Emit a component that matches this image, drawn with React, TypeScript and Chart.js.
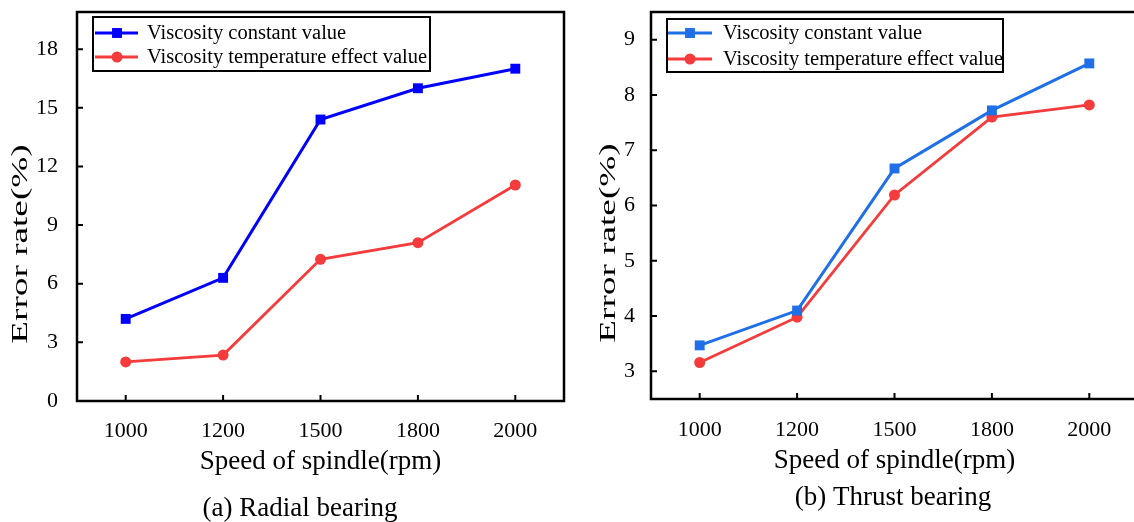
import React, { useEffect, useRef } from 'react';
import { Chart, registerables } from 'chart.js';

Chart.register(...registerables);

// ---------- data ----------
const speedLabels = ['1000', '1200', '1500', '1800', '2000'];
const radialConstant = [4.2, 6.3, 14.4, 16.0, 17.0];
const radialTemperature = [2.0, 2.35, 7.25, 8.1, 11.05];
const thrustConstant = [3.47, 4.1, 6.67, 7.72, 8.57];
const thrustTemperature = [3.16, 3.98, 6.19, 7.6, 7.82];
const radialYTicks = [0, 3, 6, 9, 12, 15, 18];
const thrustYTicks = [3, 4, 5, 6, 7, 8, 9];
const seriesNames = ['Viscosity constant value', 'Viscosity temperature effect value'];
const xTitle = 'Speed of spindle(rpm)';
const yTitle = 'Error rate(%)';
const captions = ['(a) Radial bearing', '(b) Thrust bearing'];

const FONT = '"Liberation Serif", "Times New Roman", Times, serif';

// ---------- plugins ----------
const frameTicksPlugin = {
  id: 'frameTicks',
  afterDraw(chart: any) {
    const { ctx, chartArea: a, scales } = chart;
    ctx.save();
    ctx.strokeStyle = '#000';
    ctx.lineWidth = 2;
    ctx.beginPath();
    scales.x.ticks.forEach((_: any, i: number) => {
      const px = scales.x.getPixelForTick(i);
      ctx.moveTo(px, a.bottom);
      ctx.lineTo(px, a.bottom - 6);
    });
    scales.y.ticks.forEach((_: any, i: number) => {
      const py = scales.y.getPixelForTick(i);
      ctx.moveTo(a.left, py);
      ctx.lineTo(a.left + 6, py);
    });
    ctx.stroke();
    ctx.lineWidth = 2.5;
    ctx.strokeRect(a.left, a.top, a.right - a.left, a.bottom - a.top);
    ctx.restore();
  },
};

const boxLegendPlugin = {
  id: 'boxLegend',
  afterDraw(chart: any, _args: any, opts: any) {
    if (!opts || !opts.display) return;
    const { ctx, chartArea: a } = chart;
    const left = a.left + opts.dx;
    const top = a.top + opts.dy;
    ctx.save();
    ctx.fillStyle = '#fff';
    ctx.fillRect(left, top, opts.width, opts.height);
    ctx.lineWidth = 2;
    ctx.strokeStyle = '#000';
    ctx.strokeRect(left, top, opts.width, opts.height);
    chart.data.datasets.forEach((ds: any, i: number) => {
      const y = top + opts.rows[i];
      ctx.strokeStyle = ds.borderColor;
      ctx.lineWidth = ds.borderWidth;
      ctx.beginPath();
      ctx.moveTo(left + opts.lineFrom, y);
      ctx.lineTo(left + opts.lineTo, y);
      ctx.stroke();
      const mx = left + opts.markerX;
      ctx.fillStyle = ds.pointBackgroundColor;
      if (ds.pointStyle === 'rect') {
        const s = ds.pointRadius * Math.SQRT1_2;
        ctx.fillRect(mx - s, y - s, 2 * s, 2 * s);
      } else {
        ctx.beginPath();
        ctx.arc(mx, y, ds.pointRadius, 0, Math.PI * 2);
        ctx.fill();
      }
      ctx.fillStyle = '#000';
      ctx.font = `${opts.fontSize}px ${FONT}`;
      ctx.textBaseline = 'middle';
      ctx.textAlign = 'left';
      ctx.fillText(ds.label, left + opts.textX, y + 1);
    });
    ctx.restore();
  },
};

const panelTextPlugin = {
  id: 'panelText',
  afterDraw(chart: any, _args: any, opts: any) {
    const { ctx } = chart;
    // y axis title
    ctx.save();
    ctx.fillStyle = '#000';
    ctx.font = `${opts.yTitleSize}px ${FONT}`;
    ctx.translate(opts.yTitleX, opts.yTitleY);
    ctx.rotate(-Math.PI / 2);
    ctx.scale(opts.yTitleStretch, 1);
    ctx.textAlign = 'center';
    ctx.textBaseline = 'middle';
    ctx.fillText(opts.yTitle, 0, 0);
    ctx.restore();
    // caption
    ctx.save();
    ctx.fillStyle = '#000';
    ctx.font = `${opts.captionSize}px ${FONT}`;
    ctx.textAlign = 'center';
    ctx.textBaseline = 'middle';
    ctx.fillText(opts.caption, opts.captionX, opts.captionY);
    ctx.restore();
  },
};

// ---------- config builder ----------
interface PanelParams {
  blueColor: string;
  redColor: string;
  blueValues: number[];
  redValues: number[];
  yMin: number;
  yMax: number;
  yTicks: number[];
  yAxisWidth: number;
  xAxisHeight: number;
  padRight: number;
  xTickPad: number;
  yTickPad: number;
  xTitlePadBottom: number;
  legend: any;
  text: any;
}

function makeConfig(p: PanelParams): any {
  return {
    type: 'line',
    data: {
      labels: speedLabels,
      datasets: [
        {
          label: seriesNames[0],
          data: p.blueValues,
          borderColor: p.blueColor,
          backgroundColor: p.blueColor,
          pointBackgroundColor: p.blueColor,
          pointBorderColor: p.blueColor,
          pointBorderWidth: 0,
          borderWidth: 3,
          pointStyle: 'rect',
          pointRadius: 7,
          tension: 0,
        },
        {
          label: seriesNames[1],
          data: p.redValues,
          borderColor: p.redColor,
          backgroundColor: p.redColor,
          pointBackgroundColor: p.redColor,
          pointBorderColor: p.redColor,
          pointBorderWidth: 0,
          borderWidth: 2.8,
          pointStyle: 'circle',
          pointRadius: 5.5,
          tension: 0,
        },
      ],
    },
    options: {
      responsive: false,
      animation: false,
      events: [],
      layout: { padding: { left: 0, right: p.padRight, top: 12, bottom: 0 } },
      scales: {
        x: {
          type: 'category',
          offset: true,
          grid: { display: false },
          border: { display: false },
          ticks: {
            color: '#000',
            font: { family: FONT, size: 22 },
            padding: p.xTickPad,
            maxRotation: 0,
            autoSkip: false,
          },
          title: {
            display: true,
            text: xTitle,
            color: '#000',
            font: { family: FONT, size: 27 },
            padding: { top: 0, bottom: p.xTitlePadBottom },
          },
          afterFit: (s: any) => {
            s.height = p.xAxisHeight;
          },
        },
        y: {
          type: 'linear',
          min: p.yMin,
          max: p.yMax,
          afterBuildTicks: (s: any) => {
            s.ticks = p.yTicks.map((v) => ({ value: v }));
          },
          grid: { display: false },
          border: { display: false },
          ticks: {
            color: '#000',
            font: { family: FONT, size: 22 },
            padding: p.yTickPad,
          },
          title: { display: false },
          afterFit: (s: any) => {
            s.width = p.yAxisWidth;
            s.paddingTop = 0;
            s.paddingBottom = 0;
          },
        },
      },
      plugins: {
        legend: { display: false },
        tooltip: { enabled: false },
        title: { display: false },
        boxLegend: p.legend,
        panelText: p.text,
      },
    },
    plugins: [frameTicksPlugin, boxLegendPlugin, panelTextPlugin],
  };
}

function Panel({ left, width, params }: { left: number; width: number; params: PanelParams }) {
  const ref = useRef<HTMLCanvasElement>(null);
  useEffect(() => {
    const chart = new Chart(ref.current as HTMLCanvasElement, makeConfig(params));
    return () => chart.destroy();
  }, []);
  return (
    <canvas
      ref={ref}
      width={width}
      height={522}
      style={{ position: 'absolute', left, top: 0, width, height: 522 }}
    />
  );
}

const radialParams: PanelParams = {
  blueColor: '#0000ff',
  redColor: '#f53b3b',
  blueValues: radialConstant,
  redValues: radialTemperature,
  yMin: 0,
  yMax: 19.9,
  yTicks: radialYTicks,
  yAxisWidth: 77,
  xAxisHeight: 121,
  padRight: 4,
  xTickPad: 9,
  yTickPad: 11,
  xTitlePadBottom: 44,
  legend: {
    display: true,
    dx: 16,
    dy: 5,
    width: 337,
    height: 54,
    rows: [16, 40],
    lineFrom: 2,
    lineTo: 45,
    markerX: 24,
    textX: 54,
    fontSize: 20.5,
  },
  text: {
    yTitle: yTitle,
    yTitleX: 21,
    yTitleY: 244,
    yTitleSize: 24,
    yTitleStretch: 1.55,
    caption: captions[0],
    captionX: 300,
    captionY: 509,
    captionSize: 27,
  },
};

const thrustParams: PanelParams = {
  blueColor: '#1f6fe6',
  redColor: '#f53b3b',
  blueValues: thrustConstant,
  redValues: thrustTemperature,
  yMin: 2.5,
  yMax: 9.5,
  yTicks: thrustYTicks,
  yAxisWidth: 64,
  xAxisHeight: 123,
  padRight: 3,
  xTickPad: 10,
  yTickPad: 8,
  xTitlePadBottom: 45,
  legend: {
    display: true,
    dx: 16,
    dy: 7,
    width: 336,
    height: 53,
    rows: [14, 40],
    lineFrom: 1,
    lineTo: 45,
    markerX: 23,
    textX: 56,
    fontSize: 20.5,
  },
  text: {
    yTitle: yTitle,
    yTitleX: 22,
    yTitleY: 243,
    yTitleSize: 24,
    yTitleStretch: 1.55,
    caption: captions[1],
    captionX: 306,
    captionY: 498,
    captionSize: 27,
  },
};

export default function App() {
  return (
    <div
      style={{
        position: 'fixed',
        left: 0,
        top: 0,
        width: 1134,
        height: 522,
        overflow: 'hidden',
        background: '#fff',
      }}
    >
      <Panel left={0} width={571} params={radialParams} />
      <Panel left={587} width={558} params={thrustParams} />
    </div>
  );
}
